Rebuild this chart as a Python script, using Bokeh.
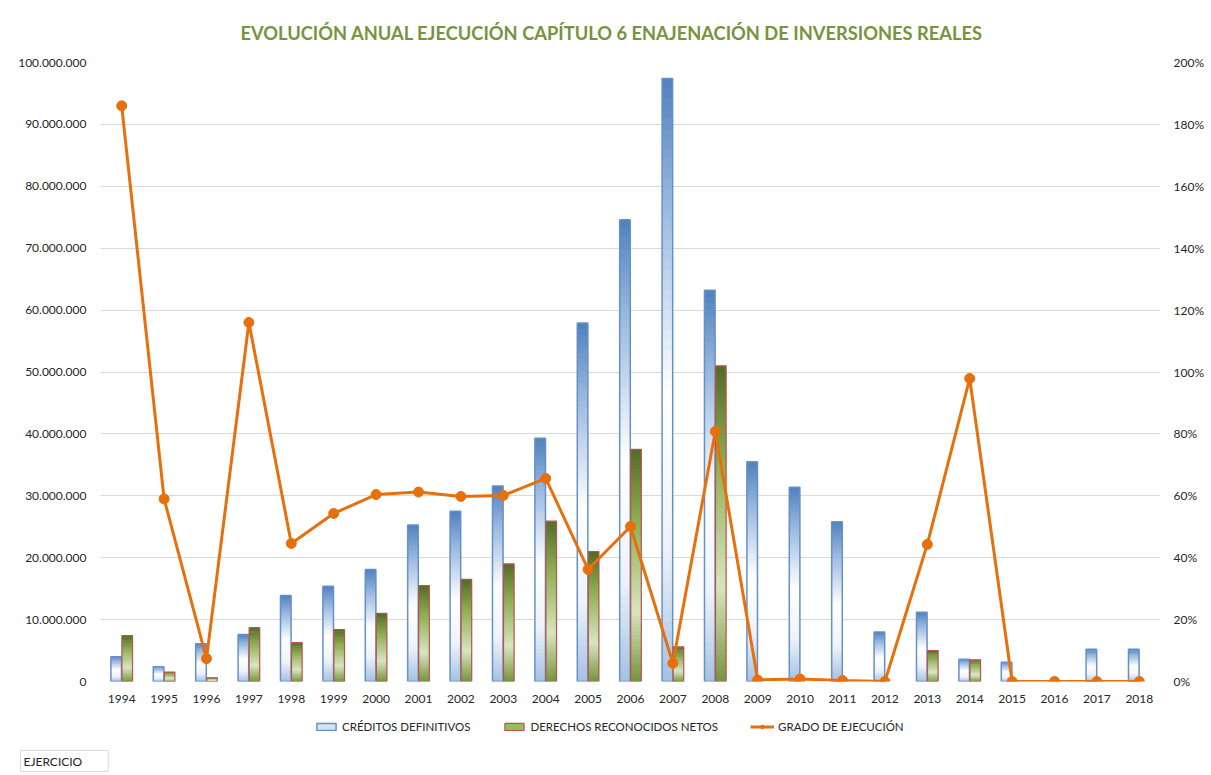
from bokeh.plotting import figure
from bokeh.layouts import column
from bokeh.models import (FactorRange, Range1d, LinearAxis, FixedTicker, Legend,
                          LegendItem, ColumnDataSource, Title)
from bokeh.transform import dodge
from bokeh.embed import file_html
from bokeh.resources import INLINE

years = [str(y) for y in range(1994, 2019)]
creditos = [4.0e6, 2.4e6, 6.1e6, 7.6e6, 13.9e6, 15.4e6, 18.1e6, 25.3e6, 27.5e6, 31.6e6,
            39.3e6, 57.9e6, 74.6e6, 97.4e6, 63.2e6, 35.5e6, 31.4e6, 25.8e6, 8.0e6, 11.2e6,
            3.6e6, 3.1e6, 0.0, 5.2e6, 5.2e6]
derechos = [7.4e6, 1.5e6, 0.6e6, 8.7e6, 6.3e6, 8.4e6, 11.0e6, 15.5e6, 16.5e6, 19.0e6,
            25.9e6, 21.0e6, 37.5e6, 5.6e6, 51.0e6, 0.0, 0.0, 0.0, 0.0, 5.0e6,
            3.5e6, 0.0, 0.0, 0.0, 0.0]
grado = [1.86, 0.59, 0.074, 1.16, 0.446, 0.543, 0.604, 0.612, 0.598, 0.601,
         0.656, 0.362, 0.501, 0.059, 0.808, 0.005, 0.008, 0.003, 0.0, 0.443,
         0.979, 0.0, 0.0, 0.0, 0.0]

left_ticks = [0, 10e6, 20e6, 30e6, 40e6, 50e6, 60e6, 70e6, 80e6, 90e6, 100e6]
left_tick_labels = ["0", "10.000.000", "20.000.000", "30.000.000", "40.000.000",
                    "50.000.000", "60.000.000", "70.000.000", "80.000.000",
                    "90.000.000", "100.000.000"]
right_ticks = [0, 0.2, 0.4, 0.6, 0.8, 1.0, 1.2, 1.4, 1.6, 1.8, 2.0]
right_tick_labels = ["0%", "20%", "40%", "60%", "80%", "100%", "120%", "140%",
                     "160%", "180%", "200%"]

title_text = "EVOLUCIÓN ANUAL EJECUCIÓN CAPÍTULO 6 ENAJENACIÓN DE INVERSIONES REALES"
series_names = ["CRÉDITOS DEFINITIVOS", "DERECHOS RECONOCIDOS NETOS", "GRADO DE EJECUCIÓN"]
footer_text = "EJERCICIO"

FONT = "Lato"
TXT = "#262626"
ORANGE = "#E8700C"
BLUE_LINE = "#6690C8"
RED_LINE = "#C0504D"

p = figure(x_range=FactorRange(*years), y_range=Range1d(0, 100e6),
           frame_width=1060, frame_height=619, output_backend="svg",
           toolbar_location=None,
           min_border_left=100, min_border_right=48, min_border_top=62,
           min_border_bottom=30)
p.extra_y_ranges = {"pct": Range1d(0, 2.0)}

p.title.text = title_text
p.title.align = "left"
p.title.offset = 140
p.title.standoff = 37
p.title.text_font = FONT
p.title.text_font_style = "bold"
p.title.text_font_size = "18.3px"
p.title.text_color = "#77933C"

p.outline_line_color = None
p.xgrid.grid_line_color = None
p.ygrid.ticker = FixedTicker(ticks=left_ticks)
p.ygrid.grid_line_color = "#D9D9D9"
p.ygrid.grid_line_width = 1

p.yaxis.ticker = FixedTicker(ticks=left_ticks)
p.yaxis.major_label_overrides = {t: l for t, l in zip(left_ticks, left_tick_labels)}

raxis = LinearAxis(y_range_name="pct", ticker=FixedTicker(ticks=right_ticks))
raxis.major_label_overrides = {t: l for t, l in zip(right_ticks, right_tick_labels)}
p.add_layout(raxis, "right")

for ax in [p.xaxis[0], p.yaxis[0], raxis]:
    ax.axis_line_color = None
    ax.major_tick_line_color = None
    ax.minor_tick_line_color = None
    ax.major_label_text_font = FONT
    ax.major_label_text_font_size = "12px"
    ax.major_label_text_color = TXT
p.yaxis[0].major_label_standoff = 8
raxis.major_label_standoff = 7
p.xaxis[0].major_label_standoff = 7


def lerp(stops, t):
    for (t0, c0), (t1, c1) in zip(stops[:-1], stops[1:]):
        if t0 <= t <= t1:
            f = (t - t0) / (t1 - t0) if t1 > t0 else 0
            c = [round(a + (b - a) * f) for a, b in zip(c0, c1)]
            return "#%02x%02x%02x" % tuple(c)
    return "#%02x%02x%02x" % tuple(stops[-1][1])


blue_stops = [(0.0, (79, 129, 189)), (0.2, (150, 182, 222)), (0.52, (255, 255, 255)),
              (0.78, (238, 243, 250)), (1.0, (165, 192, 226))]
green_stops = [(0.0, (84, 106, 42)), (0.3, (140, 174, 80)), (0.7, (216, 229, 192)),
               (1.0, (118, 148, 62))]

N = 60


def slices(vals, stops):
    d = dict(year=[], top=[], bottom=[], color=[])
    for y, v in zip(years, vals):
        if v <= 0:
            continue
        for k in range(N):
            d["year"].append(y)
            d["top"].append(v * (1 - k / N))
            d["bottom"].append(max(0.0, v * (1 - (k + 1.7) / N)))
            d["color"].append(lerp(stops, (k + 0.5) / N))
    return ColumnDataSource(d)


def nonzero(vals):
    ys = [y for y, v in zip(years, vals) if v > 0]
    vs = [v for v in vals if v > 0]
    return ColumnDataSource(dict(year=ys, top=vs))


BW = 0.25
OFF = 0.13

p.vbar(x=dodge("year", -OFF, range=p.x_range), width=BW, top="top", bottom="bottom",
       source=slices(creditos, blue_stops), fill_color="color", line_color=None)
p.vbar(x=dodge("year", -OFF, range=p.x_range), width=BW, top="top",
       source=nonzero(creditos), fill_alpha=0, line_color=BLUE_LINE, line_width=1.5)

p.vbar(x=dodge("year", OFF, range=p.x_range), width=BW, top="top", bottom="bottom",
       source=slices(derechos, green_stops), fill_color="color", line_color=None)
p.vbar(x=dodge("year", OFF, range=p.x_range), width=BW, top="top",
       source=nonzero(derechos), fill_alpha=0, line_color=RED_LINE, line_width=1.2)

lsrc = ColumnDataSource(dict(year=years, grado=grado))
p.line(x="year", y="grado", source=lsrc, y_range_name="pct", line_color=ORANGE,
       line_width=3)
p.scatter(x="year", y="grado", source=lsrc, y_range_name="pct", size=10,
          fill_color=ORANGE, line_color=ORANGE)

# ---- legend strip (separate figure so the legend is not clipped) ----
p2 = figure(x_range=Range1d(0, 1), y_range=Range1d(0, 1), frame_width=1060,
            frame_height=32, output_backend="svg", toolbar_location=None,
            min_border_left=100, min_border_right=48, min_border_top=0,
            min_border_bottom=28)
p2.axis.visible = False
p2.grid.visible = False
p2.outline_line_color = None

proxy_src = ColumnDataSource(dict(x=[0.5], top=[creditos[0]], g=[grado[0]]))
lb = p2.vbar(x="x", top="top", width=0.1, source=proxy_src, fill_color="#D6E3F3",
             line_color=BLUE_LINE, line_width=1.5, visible=False)
lg = p2.vbar(x="x", top="top", width=0.1, source=proxy_src, fill_color="#9BBB59",
             line_color=RED_LINE, line_width=1.2, visible=False)
ll = p2.line(x="x", y="g", source=proxy_src, line_color=ORANGE, line_width=3,
             visible=False)
ls = p2.scatter(x="x", y="g", source=proxy_src, size=9, fill_color=ORANGE,
                line_color=ORANGE, visible=False)

legend = Legend(items=[LegendItem(label=series_names[0], renderers=[lb]),
                       LegendItem(label=series_names[1], renderers=[lg]),
                       LegendItem(label=series_names[2], renderers=[ll, ls])],
                orientation="horizontal", location=(214, 10), click_policy="none")
legend.label_text_font = FONT
legend.label_text_font_size = "11.5px"
legend.label_text_color = TXT
legend.border_line_color = None
legend.background_fill_alpha = 0
legend.inactive_fill_alpha = 0
legend.glyph_width = 24
legend.glyph_height = 9
legend.spacing = 32
legend.label_standoff = 4
legend.margin = 0
legend.padding = 4
p2.add_layout(legend, "center")

foot = Title(text=footer_text, align="left", offset=-80, text_font=FONT,
             text_font_size="12px", text_color=TXT, text_font_style="normal",
             border_line_color="#D9D9D9", background_fill_color="white",
             padding=(3, 26, 3, 3))
p2.add_layout(foot, "below")

layout = column(p, p2, spacing=0)
open("out.html", "w").write(file_html(layout, INLINE))
